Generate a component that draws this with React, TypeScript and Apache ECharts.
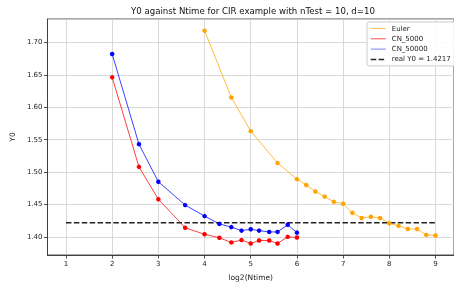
import React, { useEffect, useRef } from "react";
import * as echarts from "echarts";

const titleText = "Y0 against Ntime for CIR example with nTest = 10, d=10";
const eulerX = [4, 4.58, 5, 5.58, 6, 6.2, 6.4, 6.6, 6.8, 7, 7.2, 7.4, 7.6, 7.8, 8, 8.2, 8.4, 8.6, 8.8, 9];
const eulerY = [1.718, 1.615, 1.563, 1.514, 1.489, 1.48, 1.47, 1.462, 1.454, 1.451, 1.437, 1.429, 1.431, 1.429, 1.421, 1.417, 1.412, 1.412, 1.403, 1.402];
const cnX = [2, 2.58, 3, 3.58, 4, 4.32, 4.58, 4.8, 5, 5.18, 5.4, 5.58, 5.8, 6];
const cn5000Y = [1.646, 1.508, 1.458, 1.414, 1.404, 1.3985, 1.3914, 1.395, 1.3898, 1.3944, 1.3944, 1.3898, 1.4, 1.399];
const cn50000Y = [1.682, 1.543, 1.485, 1.449, 1.432, 1.42, 1.415, 1.4096, 1.4117, 1.4096, 1.4076, 1.4076, 1.4187, 1.4065];
const realY0 = 1.4217;
const realX = [1, 9];
const seriesNames = ["Euler", "CN_5000", "CN_50000", "real Y0 = 1.4217"];

const font = "DejaVu Sans";

export default function App() {
  const ref = useRef<HTMLDivElement>(null);
  useEffect(() => {
    if (!ref.current) return;
    const chart = echarts.init(ref.current, null, { renderer: "svg" });
    const pair = (xs: number[], ys: number[]) => xs.map((x, i) => [x, ys[i]]);
    const lineSeries = (name: string, data: number[][], color: string) => ({
      name,
      type: "line",
      data,
      symbol: "circle",
      symbolSize: 4.5,
      itemStyle: { color },
      lineStyle: { color, width: 1, opacity: 0.75 },
      emphasis: { disabled: true },
    });
    chart.setOption({
      animation: false,
      graphic: [
        {
          type: "text",
          x: 253,
          y: 11,
          style: {
            text: titleText,
            fontFamily: font,
            fontSize: 8.6,
            fill: "#111",
            textAlign: "center",
            textVerticalAlign: "middle",
          },
        },
      ],
      legend: {
        orient: "vertical",
        left: 367,
        top: 22,
        padding: [3, 6, 3, 3],
        itemWidth: 15,
        itemHeight: 8,
        itemGap: 3.3,
        backgroundColor: "rgba(255,255,255,0.9)",
        borderColor: "#ccc",
        borderWidth: 1,
        borderRadius: 2,
        itemStyle: { opacity: 0 },
        textStyle: { fontFamily: font, fontSize: 7, color: "#222", padding: [0, 0, 0, 1] },
        data: [
          { name: seriesNames[0], lineStyle: { width: 1, opacity: 0.7 } },
          { name: seriesNames[1], lineStyle: { width: 1, opacity: 0.7 } },
          { name: seriesNames[2], lineStyle: { width: 1, opacity: 0.5 } },
          { name: seriesNames[3], lineStyle: { width: 1.5 } },
        ],
      },
      grid: { left: 47, top: 19, width: 410, height: 240, show: true, borderColor: "#222", borderWidth: 0.8, backgroundColor: "transparent" },
      xAxis: {
        type: "value",
        min: 0.6,
        max: 9.4,
        minInterval: 1,
        maxInterval: 1,
        splitNumber: 9,
        name: "log2(Ntime)",
        nameLocation: "middle",
        nameGap: 18,
        nameTextStyle: { fontFamily: font, fontSize: 7.5, color: "#222" },
        axisLine: { show: true, lineStyle: { color: "#222", width: 0.8 } },
        axisTick: { show: true, length: 3.5, lineStyle: { color: "#222", width: 0.8 } },
        axisLabel: { fontFamily: font, fontSize: 7, color: "#222", margin: 5, showMinLabel: false, showMaxLabel: false },
        splitLine: { show: true, lineStyle: { color: "#cfcfcf", width: 0.8 } },
      },
      yAxis: {
        type: "value",
        min: 1.372,
        max: 1.736,
        minInterval: 0.05,
        maxInterval: 0.05,
        splitNumber: 7,
        name: "Y0",
        nameLocation: "middle",
        nameGap: 27,
        nameTextStyle: { fontFamily: font, fontSize: 7.5, color: "#222" },
        axisLine: { show: true, lineStyle: { color: "#222", width: 0.8 } },
        axisTick: { show: true, length: 3.5, lineStyle: { color: "#222", width: 0.8 } },
        axisLabel: {
          fontFamily: font,
          fontSize: 7,
          color: "#222",
          margin: 5,
          showMinLabel: false,
          showMaxLabel: false,
          formatter: (v: number) => v.toFixed(2),
        },
        splitLine: { show: true, lineStyle: { color: "#cfcfcf", width: 0.8 } },
      },
      series: [
        lineSeries(seriesNames[0], pair(eulerX, eulerY), "#FFA500"),
        lineSeries(seriesNames[1], pair(cnX, cn5000Y), "#FF0000"),
        lineSeries(seriesNames[2], pair(cnX, cn50000Y), "#0000FF"),
        {
          name: seriesNames[3],
          type: "line",
          data: realX.map((x) => [x, realY0]),
          symbol: "none",
          itemStyle: { color: "#222" },
          lineStyle: { color: "#222", width: 1.5, type: [5.5, 2.4] },
          emphasis: { disabled: true },
        },
      ],
    });
    return () => chart.dispose();
  }, []);
  return <div ref={ref} style={{ position: "fixed", left: 0, top: 0, width: 454, height: 286 }} />;
}
